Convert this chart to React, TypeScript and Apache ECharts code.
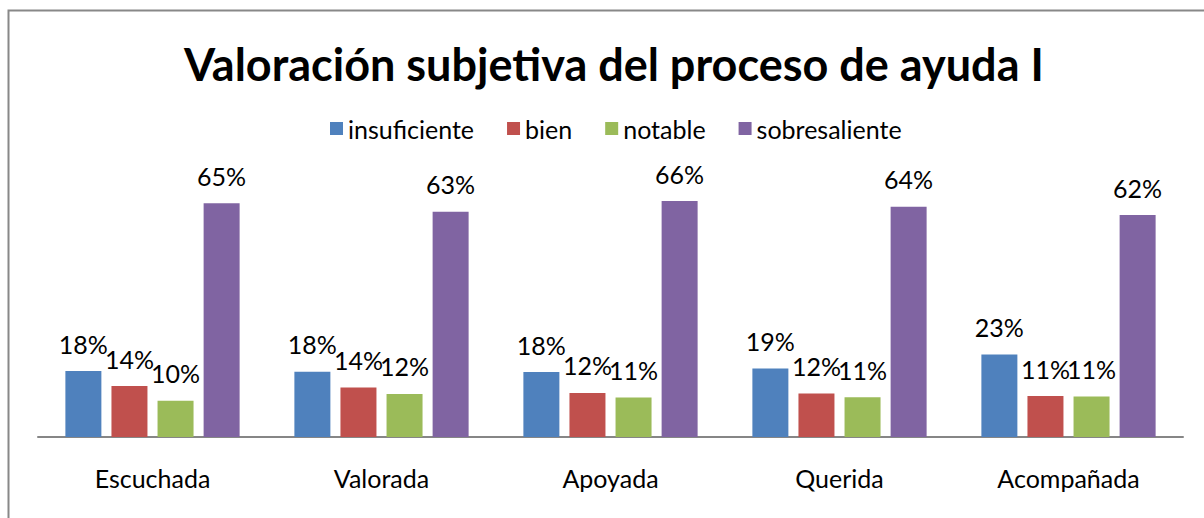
import React, { useEffect, useRef } from "react";
import * as echarts from "echarts";

const categories = ["Escuchada", "Valorada", "Apoyada", "Querida", "Acompañada"];
const seriesNames = ["insuficiente", "bien", "notable", "sobresaliente"];
const insuficiente = [18.4, 18.2, 18.1, 19.1, 23.0];
const bien = [14.2, 13.8, 12.3, 12.1, 11.4];
const notable = [10.1, 12.0, 11.0, 11.1, 11.3];
const sobresaliente = [65.2, 62.8, 65.8, 64.2, 61.9];
const colors = ["#4F81BD", "#C0504D", "#9BBB59", "#8064A2"];

export default function App() {
  const ref = useRef<HTMLDivElement>(null);
  useEffect(() => {
    const chart = echarts.init(ref.current!, null, { renderer: "svg" });
    const data = [insuficiente, bien, notable, sobresaliente];
    chart.setOption({
      animation: false,
      textStyle: { fontFamily: "Lato" },
      title: {
        text: "Valoración subjetiva del proceso de ayuda I",
        left: 179,
        top: 36,
        textStyle: { fontFamily: "Lato", fontSize: 45, fontWeight: "bold", color: "#000" },
      },
      legend: {
        top: 111,
        left: 325,
        itemWidth: 13,
        itemHeight: 13,
        itemGap: 33,
        icon: "rect",
        textStyle: { fontFamily: "Lato", fontSize: 25, color: "#000" },
        data: seriesNames,
      },
      graphic: [
        {
          type: "rect",
          shape: { x: 8.5, y: 10.5, width: 1300, height: 600 },
          style: { fill: "none", stroke: "#888888", lineWidth: 2 },
          silent: true,
        },
      ],
      grid: { left: 38, right: 21, top: 186, bottom: 81 },
      xAxis: {
        type: "category",
        data: categories,
        axisLine: { lineStyle: { color: "#868686", width: 2 } },
        axisTick: { show: false },
        axisLabel: { fontFamily: "Lato", fontSize: 25, color: "#000", margin: 28 },
      },
      yAxis: {
        type: "value",
        min: 0,
        max: 70,
        show: false,
        splitLine: { show: false },
      },
      series: seriesNames.map((name, i) => ({
        name,
        type: "bar",
        data: data[i],
        barWidth: 36,
        barGap: "28%",
        itemStyle: { color: colors[i] },
        label: {
          show: true,
          position: "top",
          distance: 15,
          fontFamily: "Lato",
          fontSize: 25,
          color: "#000",
          formatter: (p: any) => Math.round(p.value) + "%",
        },
      })),
    });
    return () => chart.dispose();
  }, []);
  return (
    <div
      ref={ref}
      style={{ position: "fixed", left: 0, top: 0, width: 1204, height: 518, background: "#fff" }}
    />
  );
}
